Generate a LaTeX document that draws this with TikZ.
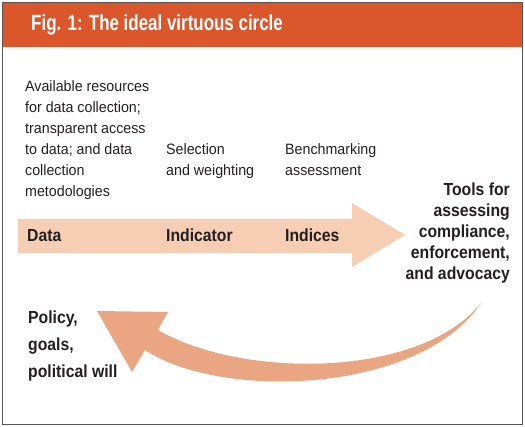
\documentclass[tikz,border=0pt]{standalone}
\usepackage{fontspec}
\setmainfont{Liberation Sans}[FakeStretch=0.9]
\newfontfamily\titlefont{Liberation Sans}[FakeStretch=0.77]
\newfontfamily\smallfont{Liberation Sans}[FakeStretch=0.95]
\definecolor{titleorange}{RGB}{220,86,44}
\definecolor{peach}{RGB}{246,206,180}
\definecolor{salmon}{RGB}{234,166,130}
\definecolor{framegray}{RGB}{85,85,85}
\definecolor{ink}{RGB}{35,31,32}
\tikzset{
  smalltxt/.style={anchor=base west,inner sep=0pt,align=left,text=ink,font=\smallfont\fontsize{15}{21}\selectfont},
  boldtxt/.style={anchor=base west,inner sep=0pt,align=left,text=ink,font=\bfseries\fontsize{17.5}{21}\selectfont}
}
\begin{document}
\begin{tikzpicture}[x=1pt,y=-1pt]
                \useasboundingbox (0,0) rectangle (525,427);
                \fill[titleorange] (2.5,2.5) rectangle (522.5,47.5); %title bar
                \draw[framegray,line width=1.5pt] (2.5,2.5) rectangle (522.5,424.5); %frame
                \node[anchor=base west,inner sep=0pt,text=white,font=\titlefont\bfseries\fontsize{22}{26}\selectfont] (title) at (31,31) {Fig. 1: The ideal virtuous circle};

                % straight arrow
                \coordinate (S1) at (18,219);
                \coordinate (S2) at (352,219);
                \coordinate (S3) at (352,203);
                \coordinate (S4) at (405,235);
                \coordinate (S5) at (352,267);
                \coordinate (S6) at (352,253);
                \coordinate (S7) at (18,253);
                \fill[peach] (S1) -- (S2) -- (S3) -- (S4) -- (S5) -- (S6) -- (S7) -- cycle;

                % curved arrow back
                \coordinate (T) at (482,302); %tail
                \coordinate (U) at (158,330); %shaft meets head, top
                \coordinate (H1) at (168,312);
                \coordinate (H2) at (97,311); %tip
                \coordinate (H3) at (132,372);
                \coordinate (L) at (145,350); %shaft meets head, bottom
                \fill[salmon] (T) .. controls (420,380) and (240,378) .. (U) -- (H1) -- (H2) -- (H3) -- (L) .. controls (220,400) and (420,395) .. (T) -- cycle;

                % texts (base = last line)
                \node[smalltxt] (resources) at (25,197) {Available resources\\for data collection;\\transparent access\\to data; and data\\collection\\metodologies};
                \node[smalltxt] (selection) at (166,176) {Selection\\and weighting};
                \node[smalltxt] (benchmark) at (285,176) {Benchmarking\\assessment};
                \node[boldtxt] (data) at (27,242) {Data};
                \node[boldtxt] (indicator) at (166,242) {Indicator};
                \node[boldtxt] (indices) at (285,242) {Indices};
                \node[boldtxt,anchor=base east,align=right] (tools) at (510,280) {Tools for\\assessing\\compliance,\\enforcement,\\and advocacy};
                \node[boldtxt,font=\bfseries\fontsize{17.5}{27}\selectfont] (policy) at (28,378) {Policy,\\goals,\\political will};
\end{tikzpicture}
\end{document}
